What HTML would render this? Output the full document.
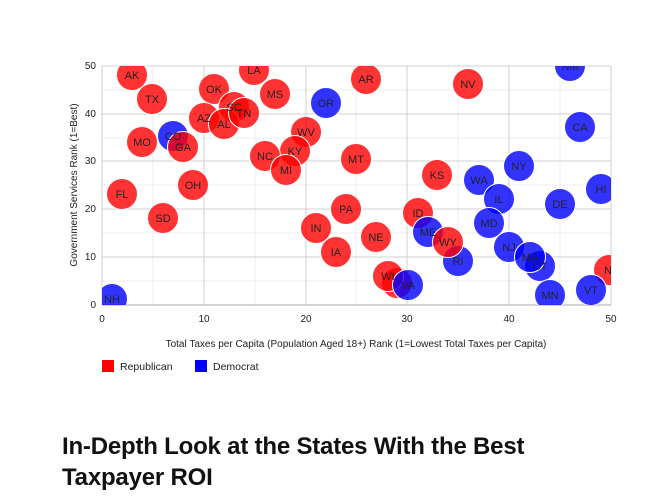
<!DOCTYPE html>
<html><head><meta charset="utf-8"><style>
body{margin:0;background:#fff;width:646px;height:502px;overflow:hidden;font-family:"Liberation Sans",sans-serif}
h1{position:absolute;left:62px;top:431px;margin:0;font-size:24px;line-height:31px;font-weight:bold;color:#111;letter-spacing:-0.2px;width:520px}
</style></head><body>
<svg width="646" height="420" style="position:absolute;left:0;top:0" font-family="Liberation Sans, sans-serif">
<defs><clipPath id="c"><rect x="102" y="66" width="509" height="239"/></clipPath></defs>
<g stroke="#eee" stroke-width="1">
<line x1="153" y1="66" x2="153" y2="305"/><line x1="255" y1="66" x2="255" y2="305"/><line x1="356" y1="66" x2="356" y2="305"/><line x1="458" y1="66" x2="458" y2="305"/><line x1="560" y1="66" x2="560" y2="305"/>
<line x1="102" y1="90" x2="611" y2="90"/><line x1="102" y1="138" x2="611" y2="138"/><line x1="102" y1="185" x2="611" y2="185"/><line x1="102" y1="233" x2="611" y2="233"/><line x1="102" y1="281" x2="611" y2="281"/>
</g>
<g stroke="#d0d0d0" stroke-width="1">
<line x1="204" y1="66" x2="204" y2="305"/><line x1="306" y1="66" x2="306" y2="305"/><line x1="407" y1="66" x2="407" y2="305"/><line x1="509" y1="66" x2="509" y2="305"/><line x1="611" y1="66" x2="611" y2="305"/>
<line x1="102" y1="66" x2="611" y2="66"/><line x1="102" y1="114" x2="611" y2="114"/><line x1="102" y1="161" x2="611" y2="161"/><line x1="102" y1="209" x2="611" y2="209"/><line x1="102" y1="257" x2="611" y2="257"/>
</g>
<line x1="102" y1="305" x2="611" y2="305" stroke="#aaa"/><line x1="102" y1="66" x2="102" y2="305" stroke="#ccc"/>
<g clip-path="url(#c)" stroke="#fff" stroke-width="1" fill-opacity="0.8">
<g fill="#f00">
<circle cx="132" cy="75" r="15.5"/><circle cx="152" cy="99" r="15.5"/><circle cx="254" cy="70" r="15.5"/><circle cx="214" cy="89" r="15.5"/><circle cx="234" cy="107" r="15.5"/><circle cx="204" cy="118" r="15.5"/><circle cx="224" cy="124" r="15.5"/><circle cx="244" cy="113" r="15.5"/><circle cx="275" cy="94" r="15.5"/><circle cx="366" cy="79" r="15.5"/><circle cx="468" cy="84" r="15.5"/>
<circle cx="142" cy="142" r="15.5"/><circle cx="306" cy="132" r="15.5"/><circle cx="295" cy="151" r="15.5"/><circle cx="265" cy="156" r="15.5"/><circle cx="286" cy="170" r="15.5"/><circle cx="356" cy="159" r="15.5"/><circle cx="193" cy="185" r="15.5"/><circle cx="122" cy="194" r="15.5"/><circle cx="163" cy="218" r="15.5"/><circle cx="437" cy="175" r="15.5"/><circle cx="346" cy="209" r="15.5"/><circle cx="418" cy="213" r="15.5"/><circle cx="316" cy="228" r="15.5"/><circle cx="376" cy="237" r="15.5"/><circle cx="336" cy="252" r="15.5"/><circle cx="397" cy="283" r="15.5"/><circle cx="388" cy="276" r="15.5"/><circle cx="609" cy="270" r="15.5"/>
</g>
<g fill="#00f">
<circle cx="326" cy="103" r="15.5"/><circle cx="570" cy="66" r="15.5"/><circle cx="580" cy="127" r="15.5"/><circle cx="173" cy="136" r="15.5"/><circle cx="519" cy="166" r="15.5"/><circle cx="479" cy="180" r="15.5"/><circle cx="499" cy="199" r="15.5"/><circle cx="601" cy="189" r="15.5"/><circle cx="560" cy="204" r="15.5"/><circle cx="428" cy="232" r="15.5"/><circle cx="489" cy="223" r="15.5"/><circle cx="509" cy="247" r="15.5"/><circle cx="540" cy="266" r="15.5"/><circle cx="530" cy="257" r="15.5"/><circle cx="458" cy="261" r="15.5"/><circle cx="408" cy="285" r="15.5"/><circle cx="550" cy="295" r="15.5"/><circle cx="591" cy="290" r="15.5"/><circle cx="112" cy="299" r="15.5"/>
</g>
<circle cx="183" cy="147" r="15.5" fill="#f00"/><circle cx="448" cy="242" r="15.5" fill="#f00"/>
<g font-size="11" text-anchor="middle" fill="#222" stroke="none" fill-opacity="1">
<text x="132" y="79">AK</text><text x="152" y="103">TX</text><text x="254" y="74">LA</text><text x="214" y="93">OK</text><text x="234" y="111">SC</text><text x="204" y="122">AZ</text><text x="224" y="128">AL</text><text x="244" y="117">TN</text><text x="275" y="98">MS</text><text x="366" y="83">AR</text><text x="468" y="88">NV</text><text x="326" y="107">OR</text><text x="570" y="70">NM</text><text x="580" y="131">CA</text><text x="173" y="140">CO</text><text x="142" y="146">MO</text><text x="183" y="151">GA</text><text x="306" y="136">WV</text><text x="295" y="155">KY</text><text x="265" y="160">NC</text><text x="286" y="174">MI</text><text x="356" y="163">MT</text><text x="193" y="189">OH</text><text x="122" y="198">FL</text><text x="163" y="222">SD</text><text x="437" y="179">KS</text><text x="519" y="170">NY</text><text x="479" y="184">WA</text><text x="499" y="203">IL</text><text x="601" y="193">HI</text><text x="560" y="208">DE</text><text x="346" y="213">PA</text><text x="418" y="217">ID</text><text x="428" y="236">ME</text><text x="489" y="227">MD</text><text x="316" y="232">IN</text><text x="376" y="241">NE</text><text x="448" y="246">WY</text><text x="509" y="251">NJ</text><text x="530" y="261">MA</text><text x="540" y="270">CT</text><text x="336" y="256">IA</text><text x="458" y="265">RI</text><text x="388" y="280">WI</text><text x="408" y="289">VA</text><text x="550" y="299">MN</text><text x="591" y="294">VT</text><text x="112" y="303">NH</text><text x="612" y="274">ND</text>
</g>
</g>
<g font-size="10" fill="#222" text-anchor="end">
<text x="96" y="69">50</text><text x="96" y="117">40</text><text x="96" y="164">30</text><text x="96" y="212">20</text><text x="96" y="260">10</text><text x="96" y="308">0</text>
</g>
<g font-size="10" fill="#222" text-anchor="middle">
<text x="102" y="322">0</text><text x="204" y="322">10</text><text x="306" y="322">20</text><text x="407" y="322">30</text><text x="509" y="322">40</text><text x="611" y="322">50</text>
<text x="356" y="347">Total Taxes per Capita (Population Aged 18+) Rank (1=Lowest Total Taxes per Capita)</text>
<text transform="translate(77,185) rotate(-90)">Government Services Rank (1=Best)</text>
</g>
<rect x="102" y="360" width="12" height="12" fill="#f00"/><text x="120" y="370" font-size="10.5" fill="#222">Republican</text>
<rect x="195" y="360" width="12" height="12" fill="#00f"/><text x="213" y="370" font-size="10.5" fill="#222">Democrat</text>
</svg>
<h1>In-Depth Look at the States With the Best Taxpayer ROI</h1>
</body></html>
